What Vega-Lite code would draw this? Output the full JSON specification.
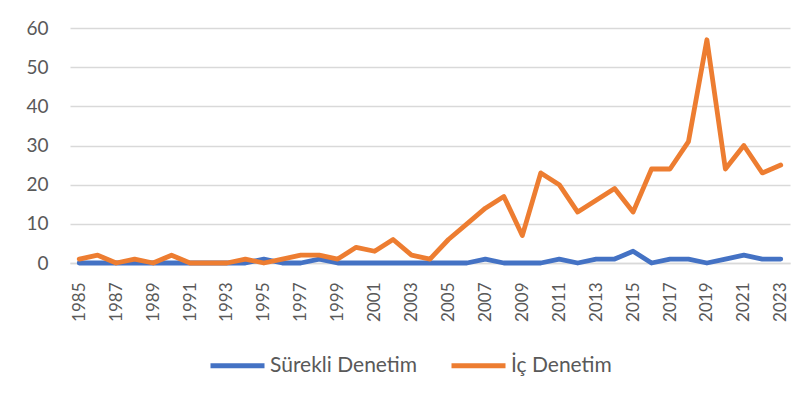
{
  "$schema": "https://vega.github.io/schema/vega-lite/v6.json",
  "autosize": {"type": "none"},
  "width": 720,
  "height": 235,
  "padding": {"left": 70, "top": 28, "right": 21, "bottom": 146},
  "background": "white",
  "config": {
    "font": "Lato",
    "view": {"stroke": null},
    "axis": {"labelColor": "#595959", "labelFont": "Lato"},
    "legend": {"labelColor": "#595959", "labelFont": "Lato"}
  },
  "datasets": {
    "d": [
      {"year": 1985, "series": "Sürekli Denetim", "value": 0},
      {"year": 1986, "series": "Sürekli Denetim", "value": 0},
      {"year": 1987, "series": "Sürekli Denetim", "value": 0},
      {"year": 1988, "series": "Sürekli Denetim", "value": 0},
      {"year": 1989, "series": "Sürekli Denetim", "value": 0},
      {"year": 1990, "series": "Sürekli Denetim", "value": 0},
      {"year": 1991, "series": "Sürekli Denetim", "value": 0},
      {"year": 1992, "series": "Sürekli Denetim", "value": 0},
      {"year": 1993, "series": "Sürekli Denetim", "value": 0},
      {"year": 1994, "series": "Sürekli Denetim", "value": 0},
      {"year": 1995, "series": "Sürekli Denetim", "value": 1},
      {"year": 1996, "series": "Sürekli Denetim", "value": 0},
      {"year": 1997, "series": "Sürekli Denetim", "value": 0},
      {"year": 1998, "series": "Sürekli Denetim", "value": 1},
      {"year": 1999, "series": "Sürekli Denetim", "value": 0},
      {"year": 2000, "series": "Sürekli Denetim", "value": 0},
      {"year": 2001, "series": "Sürekli Denetim", "value": 0},
      {"year": 2002, "series": "Sürekli Denetim", "value": 0},
      {"year": 2003, "series": "Sürekli Denetim", "value": 0},
      {"year": 2004, "series": "Sürekli Denetim", "value": 0},
      {"year": 2005, "series": "Sürekli Denetim", "value": 0},
      {"year": 2006, "series": "Sürekli Denetim", "value": 0},
      {"year": 2007, "series": "Sürekli Denetim", "value": 1},
      {"year": 2008, "series": "Sürekli Denetim", "value": 0},
      {"year": 2009, "series": "Sürekli Denetim", "value": 0},
      {"year": 2010, "series": "Sürekli Denetim", "value": 0},
      {"year": 2011, "series": "Sürekli Denetim", "value": 1},
      {"year": 2012, "series": "Sürekli Denetim", "value": 0},
      {"year": 2013, "series": "Sürekli Denetim", "value": 1},
      {"year": 2014, "series": "Sürekli Denetim", "value": 1},
      {"year": 2015, "series": "Sürekli Denetim", "value": 3},
      {"year": 2016, "series": "Sürekli Denetim", "value": 0},
      {"year": 2017, "series": "Sürekli Denetim", "value": 1},
      {"year": 2018, "series": "Sürekli Denetim", "value": 1},
      {"year": 2019, "series": "Sürekli Denetim", "value": 0},
      {"year": 2020, "series": "Sürekli Denetim", "value": 1},
      {"year": 2021, "series": "Sürekli Denetim", "value": 2},
      {"year": 2022, "series": "Sürekli Denetim", "value": 1},
      {"year": 2023, "series": "Sürekli Denetim", "value": 1},
      {"year": 1985, "series": "İç Denetim", "value": 1},
      {"year": 1986, "series": "İç Denetim", "value": 2},
      {"year": 1987, "series": "İç Denetim", "value": 0},
      {"year": 1988, "series": "İç Denetim", "value": 1},
      {"year": 1989, "series": "İç Denetim", "value": 0},
      {"year": 1990, "series": "İç Denetim", "value": 2},
      {"year": 1991, "series": "İç Denetim", "value": 0},
      {"year": 1992, "series": "İç Denetim", "value": 0},
      {"year": 1993, "series": "İç Denetim", "value": 0},
      {"year": 1994, "series": "İç Denetim", "value": 1},
      {"year": 1995, "series": "İç Denetim", "value": 0},
      {"year": 1996, "series": "İç Denetim", "value": 1},
      {"year": 1997, "series": "İç Denetim", "value": 2},
      {"year": 1998, "series": "İç Denetim", "value": 2},
      {"year": 1999, "series": "İç Denetim", "value": 1},
      {"year": 2000, "series": "İç Denetim", "value": 4},
      {"year": 2001, "series": "İç Denetim", "value": 3},
      {"year": 2002, "series": "İç Denetim", "value": 6},
      {"year": 2003, "series": "İç Denetim", "value": 2},
      {"year": 2004, "series": "İç Denetim", "value": 1},
      {"year": 2005, "series": "İç Denetim", "value": 6},
      {"year": 2006, "series": "İç Denetim", "value": 10},
      {"year": 2007, "series": "İç Denetim", "value": 14},
      {"year": 2008, "series": "İç Denetim", "value": 17},
      {"year": 2009, "series": "İç Denetim", "value": 7},
      {"year": 2010, "series": "İç Denetim", "value": 23},
      {"year": 2011, "series": "İç Denetim", "value": 20},
      {"year": 2012, "series": "İç Denetim", "value": 13},
      {"year": 2013, "series": "İç Denetim", "value": 16},
      {"year": 2014, "series": "İç Denetim", "value": 19},
      {"year": 2015, "series": "İç Denetim", "value": 13},
      {"year": 2016, "series": "İç Denetim", "value": 24},
      {"year": 2017, "series": "İç Denetim", "value": 24},
      {"year": 2018, "series": "İç Denetim", "value": 31},
      {"year": 2019, "series": "İç Denetim", "value": 57},
      {"year": 2020, "series": "İç Denetim", "value": 24},
      {"year": 2021, "series": "İç Denetim", "value": 30},
      {"year": 2022, "series": "İç Denetim", "value": 23},
      {"year": 2023, "series": "İç Denetim", "value": 25}
    ]
  },
  "data": {"name": "d"},
  "mark": {"type": "line", "strokeWidth": 4.8, "strokeCap": "round", "strokeJoin": "round"},
  "encoding": {
    "x": {
      "field": "year",
      "type": "quantitative",
      "scale": {"domain": [1984.5, 2023.5], "nice": false, "zero": false},
      "axis": {
        "title": null,
        "values": [1985, 1987, 1989, 1991, 1993, 1995, 1997, 1999, 2001, 2003, 2005, 2007, 2009, 2011, 2013, 2015, 2017, 2019, 2021, 2023],
        "format": "d",
        "labelAngle": -90,
        "labelAlign": "right",
        "labelBaseline": "middle",
        "labelFontSize": 17,
        "labelPadding": 19,
        "ticks": false,
        "grid": false,
        "domainColor": "#d9d9d9",
        "domainWidth": 1.5,
        "labelFlush": false,
        "labelOverlap": false
      }
    },
    "y": {
      "field": "value",
      "type": "quantitative",
      "scale": {"domain": [0, 60], "nice": false},
      "axis": {
        "title": null,
        "values": [0, 10, 20, 30, 40, 50, 60],
        "labelFontSize": 19,
        "labelPadding": 22,
        "ticks": false,
        "domain": false,
        "gridColor": "#d9d9d9",
        "gridWidth": 1.5
      }
    },
    "color": {
      "field": "series",
      "type": "nominal",
      "sort": ["Sürekli Denetim", "İç Denetim"],
      "scale": {"domain": ["Sürekli Denetim", "İç Denetim"], "range": ["#4472C4", "#ED7D31"]},
      "legend": {
        "title": null,
        "orient": "none",
        "direction": "horizontal",
        "legendX": 138,
        "legendY": 308,
        "symbolType": "stroke",
        "symbolSize": 2916,
        "symbolStrokeWidth": 5,
        "labelFontSize": 21,
        "labelOffset": 3,
        "columnPadding": 23
      }
    }
  }
}
